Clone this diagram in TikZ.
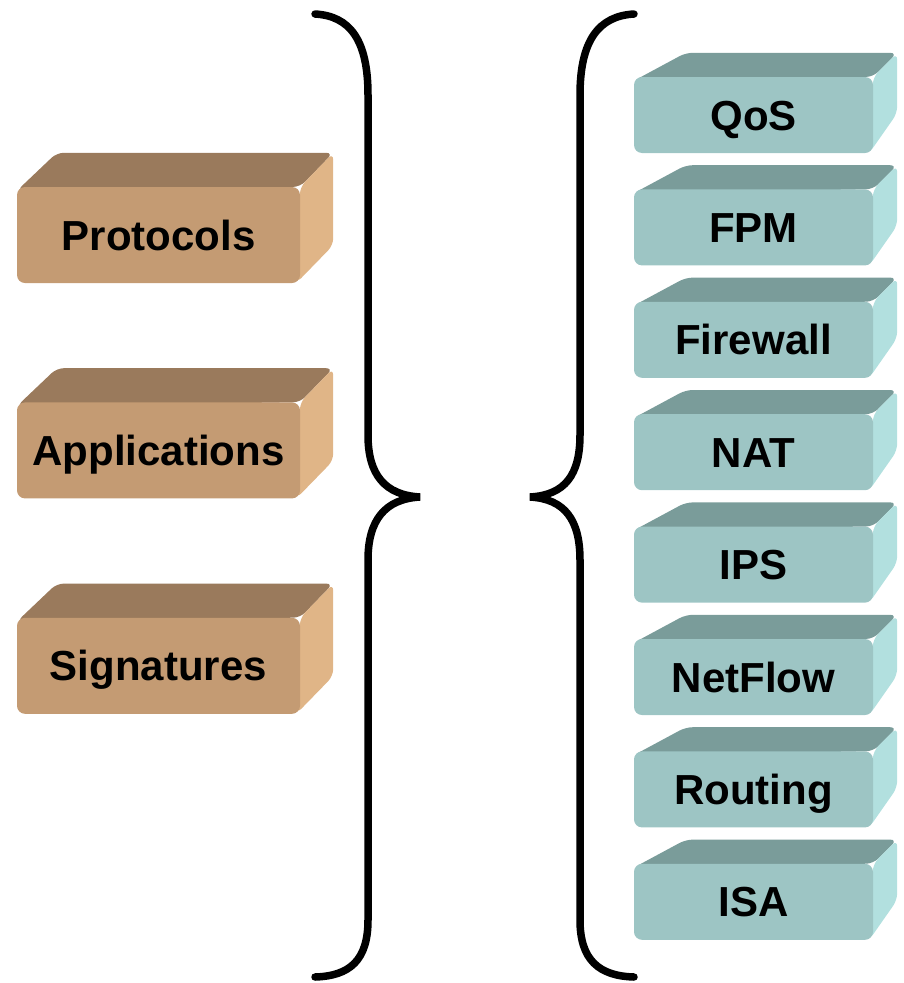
\documentclass[tikz,border=0pt]{standalone}
\usepackage{fontspec}
\setmainfont{Liberation Sans}
\usetikzlibrary{positioning,calc,backgrounds}

\definecolor{brownfront}{HTML}{C49B73}
\definecolor{browntop}{HTML}{9A7A5C}
\definecolor{brownside}{HTML}{E0B587}
\definecolor{tealfront}{HTML}{9DC5C4}
\definecolor{tealtop}{HTML}{7A9C9A}
\definecolor{tealside}{HTML}{B2E0DF}

\tikzset{
  box/.style={rounded corners=8pt, inner sep=0pt, text height=30pt, text depth=0pt,
              font=\bfseries\fontsize{42}{48}\selectfont},
  brownbox/.style={box, fill=brownfront, minimum width=283pt, minimum height=96pt},
  tealbox/.style={box, fill=tealfront, minimum width=239pt, minimum height=76pt},
  brace/.style={line width=7.5pt, line cap=round}
}

\begin{document}
\begin{tikzpicture}[x=1pt,y=-1pt]
   \useasboundingbox (0,0) rectangle (904,983);

   % left column
   \node[brownbox]                         (proto) at (158.5,235) {Protocols};
   \node[brownbox, below=119pt of proto]   (appl)  {Applications};
   \node[brownbox, below=119pt of appl]    (sigs)  {Signatures};

   % right column
   \node[tealbox]                          (qos)     at (753.5,115) {QoS};
   \node[tealbox, below=36pt of qos]       (fpm)     {FPM};
   \node[tealbox, below=36pt of fpm]       (fw)      {Firewall};
   \node[tealbox, below=36pt of fw]        (nat)     {NAT};
   \node[tealbox, below=36pt of nat]       (ips)     {IPS};
   \node[tealbox, below=36pt of ips]       (nflow)   {NetFlow};
   \node[tealbox, below=36pt of nflow]     (routing) {Routing};
   \node[tealbox, below=36pt of routing]   (isa)     {ISA};

   % top and side faces
   \begin{pgfonlayer}{background}
      \foreach \n in {proto,appl,sigs}{
         \fill[browntop, rounded corners=7pt] ($(\n.north west)+(0,4)$) -- ($(\n.north west)+(40,-34)$)
            -- ($(\n.north east)+(33,-34)$) -- (\n.north east) -- cycle;
         \fill[brownside, rounded corners=7pt] (\n.north east) -- ($(\n.north east)+(33,-34)$)
            -- ($(\n.south east)+(33,-38)$) -- ($(\n.south east)+(-4,0)$) -- cycle;
      }
      \foreach \n in {qos,fpm,fw,nat,ips,nflow,routing,isa}{
         \fill[tealtop, rounded corners=7pt] ($(\n.north west)+(0,4)$) -- ($(\n.north west)+(52,-24)$)
            -- ($(\n.north east)+(24,-24)$) -- (\n.north east) -- cycle;
         \fill[tealside, rounded corners=7pt] (\n.north east) -- ($(\n.north east)+(24,-24)$)
            -- ($(\n.south east)+(24,-40)$) -- ($(\n.south east)+(-4,0)$) -- cycle;
      }
   \end{pgfonlayer}

   % braces
   \coordinate (ltip) at (420,497);
   \coordinate (rtip) at (530,497);
   \draw[brace] (315,14) .. controls (350,16) and (368,40) .. (368,95) -- (368,435)
      .. controls (368,475) and (385,495) .. (ltip)
      .. controls (385,499) and (368,520) .. (368,560) -- (368,920)
      .. controls (368,960) and (350,976) .. (315,977);
   \draw[brace] (634,14) .. controls (599,16) and (580,40) .. (580,95) -- (580,435)
      .. controls (580,475) and (565,495) .. (rtip)
      .. controls (565,499) and (580,520) .. (580,560) -- (580,920)
      .. controls (580,960) and (599,976) .. (634,977);
\end{tikzpicture}
\end{document}
